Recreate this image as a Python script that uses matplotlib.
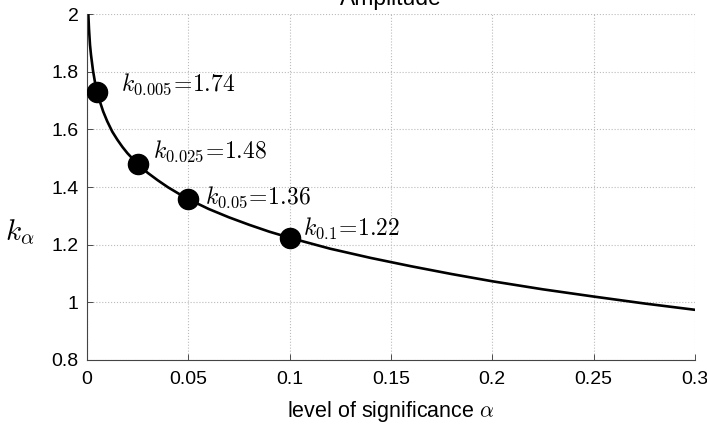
import matplotlib
matplotlib.use('Agg')
import matplotlib.pyplot as plt

# readings
alpha = [0.0007, 0.001, 0.0015, 0.002, 0.003, 0.004, 0.005, 0.0065, 0.008, 0.01,
         0.0125, 0.015, 0.0175, 0.02, 0.025, 0.03, 0.035, 0.04, 0.045, 0.05,
         0.06, 0.07, 0.08, 0.09, 0.1, 0.12, 0.14, 0.16, 0.18, 0.2, 0.225,
         0.25, 0.275, 0.3]
k_alpha = [1.995, 1.949, 1.893, 1.858, 1.803, 1.762, 1.731, 1.694, 1.662, 1.628,
           1.592, 1.564, 1.539, 1.517, 1.480, 1.449, 1.423, 1.399, 1.378, 1.358,
           1.324, 1.295, 1.269, 1.245, 1.224, 1.186, 1.154, 1.125, 1.098, 1.073, 1.045,
           1.020, 0.996, 0.974]

# marked points
pt_alpha = [0.005, 0.025, 0.05, 0.1]
pt_k = [1.731, 1.480, 1.358, 1.224]
pt_names = ['0.005', '0.025', '0.05', '0.1']
pt_text = ['1.74', '1.48', '1.36', '1.22']

xticks = [0, 0.05, 0.1, 0.15, 0.2, 0.25, 0.3]
xtick_labels = ['0', '0.05', '0.1', '0.15', '0.2', '0.25', '0.3']
yticks = [0.8, 1, 1.2, 1.4, 1.6, 1.8, 2]
ytick_labels = ['0.8', '1', '1.2', '1.4', '1.6', '1.8', '2']

plt.rcParams['font.family'] = ['Liberation Sans', 'DejaVu Sans']
plt.rcParams['mathtext.fontset'] = 'cm'

fig = plt.figure(figsize=(7.07, 4.26), dpi=100)
ax = fig.add_axes([0.123, 0.155, 0.86, 0.812])

ax.plot(alpha, k_alpha, color='black', lw=1.9)
ax.plot(pt_alpha, pt_k, 'o', color='black', ms=14.5, zorder=3)

# label offsets in pixels
offs = [(24, 7), (15, 13), (17, 2), (13, 9)]
for a, k, n, t, o in zip(pt_alpha, pt_k, pt_names, pt_text, offs):
    ax.annotate(r'$k_{%s}\!=\!%s$' % (n, t), (a, k), xytext=o,
                textcoords='offset pixels', fontsize=17, ha='left', va='center')

ax.set_xlim(0, 0.3)
ax.set_ylim(0.8, 2)
ax.set_xticks(xticks)
ax.set_xticklabels(xtick_labels)
ax.set_yticks(yticks)
ax.set_yticklabels(ytick_labels)
ax.tick_params(direction='in', length=4, width=0.6, labelsize=14, colors='#333333',
               labelcolor='black')
ax.tick_params(axis='x', pad=8)
ax.tick_params(axis='y', pad=6)
ax.grid(True, linestyle=':', color='#bbbbbb', lw=0.8)
for s in ['top', 'right']:
    ax.spines[s].set_visible(False)
for s in ['left', 'bottom']:
    ax.spines[s].set_linewidth(0.8)
    ax.spines[s].set_color('#444444')

ax.set_xlabel(r'level of significance $\alpha$', fontsize=15.5, labelpad=8)
ax.set_ylabel(r'$k_\alpha$', fontsize=21, rotation=0, ha='center', va='center')
ax.yaxis.set_label_coords(-0.11, 0.37)
ax.set_title('Amplitude', fontsize=16.5, pad=6.5)

fig.savefig('out.png', dpi=100)
